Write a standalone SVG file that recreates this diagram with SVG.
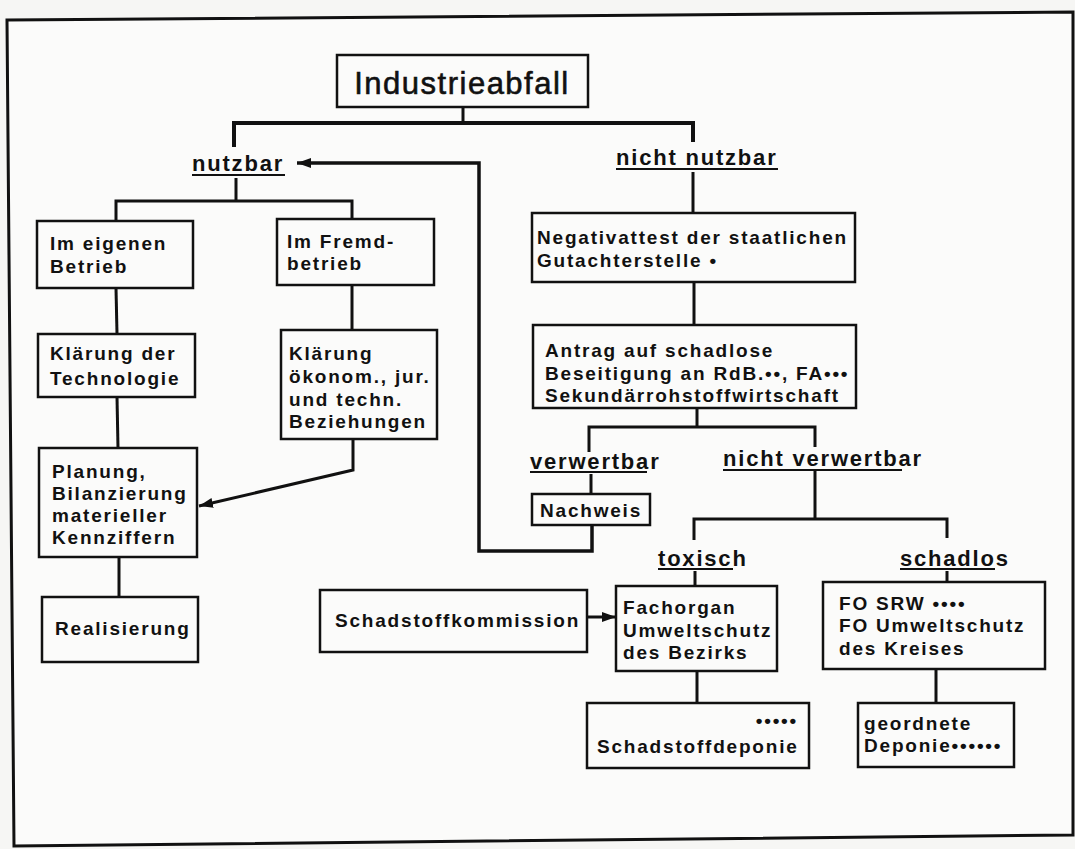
<svg xmlns="http://www.w3.org/2000/svg" width="1075" height="849" viewBox="0 0 1075 849">
<defs>
<style>
.box{fill:none;stroke:#111;stroke-width:2.5}
.t{font-family:"Liberation Sans",Arial,sans-serif;font-weight:bold;font-size:19px;letter-spacing:1.8px;fill:#111}
.lbl{font-family:"Liberation Sans",Arial,sans-serif;font-weight:bold;font-size:22px;letter-spacing:1.8px;fill:#111}
.ul{stroke:#111;stroke-width:2}
.c{fill:none;stroke:#111;stroke-width:3;stroke-linejoin:miter}
.title{font-family:"Liberation Sans",Arial,sans-serif;font-size:31px;letter-spacing:1.5px;fill:#111;stroke:#111;stroke-width:0.6}
</style>
<marker id="ah" markerUnits="userSpaceOnUse" markerWidth="16" markerHeight="12" refX="14" refY="6" orient="auto">
<path d="M0,1 L14,6 L0,11 Z" fill="#111"/>
</marker>
</defs>
<rect x="0" y="0" width="1075" height="849" fill="#f6f6f4"/>
<polygon points="7,20 1073,12 1073,835 14,846" fill="#fbfbfa" stroke="#111" stroke-width="3"/>

<g id="connectors">
<polyline class="c" points="463,107 463,123"/>
<polyline class="c" style="stroke-width:4" points="234,147 234,123 693,123 693,142"/>
<polyline class="c" points="236,178 236,201"/>
<polyline class="c" points="116,221 116,201 352,201 352,219"/>
<polyline class="c" points="116,288 117,334"/>
<polyline class="c" points="352,285 352,330"/>
<polyline class="c" points="117,397 118,448"/>
<polyline class="c" marker-end="url(#ah)" points="353,439 353,470 199,506"/>
<polyline class="c" points="119,557 119,597"/>
<polyline class="c" points="693,172 693,213"/>
<polyline class="c" points="694,282 694,325"/>
<polyline class="c" points="697,408 697,427"/>
<polyline class="c" points="589,452 589,427 815,427 815,447"/>
<polyline class="c" points="591,474 591,494"/>
<polyline class="c" style="stroke-width:3.5" marker-end="url(#ah)" points="592,525 592,551 479,551 479,163 297,163"/>
<polyline class="c" points="815,471 815,519"/>
<polyline class="c" points="694,540 694,519 947,519 947,538"/>
<polyline class="c" points="695,571 695,586"/>
<polyline class="c" points="947,571 947,582"/>
<polyline class="c" marker-end="url(#ah)" points="587,617 616,617"/>
<polyline class="c" points="697,671 697,703"/>
<polyline class="c" points="936,669 936,703"/>
</g>

<g id="industrieabfall">
<rect class="box" x="337" y="55" width="251" height="52"/>
<text class="title" x="462" y="94" text-anchor="middle">Industrieabfall</text>
</g>

<g id="nutzbar">
<text class="lbl" x="192" y="171">nutzbar</text>
<line class="ul" x1="192" y1="175" x2="285" y2="175"/>
</g>

<g id="nicht-nutzbar">
<text class="lbl" x="616" y="165">nicht nutzbar</text>
<line class="ul" x1="616" y1="169" x2="778" y2="169"/>
</g>

<g id="eigener-betrieb">
<rect class="box" x="37" y="221" width="156" height="67"/>
<text class="t" x="50" y="250">Im eigenen</text>
<text class="t" x="50" y="273">Betrieb</text>
</g>

<g id="fremdbetrieb">
<rect class="box" x="277" y="219" width="157" height="66"/>
<text class="t" x="287" y="248">Im Fremd-</text>
<text class="t" x="287" y="270">betrieb</text>
</g>

<g id="klaerung-technologie">
<rect class="box" x="38" y="334" width="157" height="63"/>
<text class="t" x="50" y="360">Klärung der</text>
<text class="t" x="50" y="385">Technologie</text>
</g>

<g id="klaerung-beziehungen">
<rect class="box" x="281" y="330" width="156" height="109"/>
<text class="t" x="289" y="360">Klärung</text>
<text class="t" x="289" y="383">ökonom., jur.</text>
<text class="t" x="289" y="406">und techn.</text>
<text class="t" x="289" y="428">Beziehungen</text>
</g>

<g id="planung">
<rect class="box" x="39" y="448" width="158" height="109"/>
<text class="t" x="52" y="478">Planung,</text>
<text class="t" x="52" y="500">Bilanzierung</text>
<text class="t" x="52" y="522">materieller</text>
<text class="t" x="52" y="544">Kennziffern</text>
</g>

<g id="realisierung">
<rect class="box" x="42" y="597" width="156" height="65"/>
<text class="t" x="55" y="635">Realisierung</text>
</g>

<g id="negativattest">
<rect class="box" x="532" y="213" width="323" height="69"/>
<text class="t" x="537" y="244">Negativattest der staatlichen</text>
<text class="t" x="537" y="267">Gutachterstelle •</text>
</g>

<g id="antrag">
<rect class="box" x="533" y="325" width="323" height="83"/>
<text class="t" x="545" y="357">Antrag auf schadlose</text>
<text class="t" x="545" y="380">Beseitigung an RdB.••, FA•••</text>
<text class="t" x="545" y="402">Sekundärrohstoffwirtschaft</text>
</g>

<g id="verwertbar">
<text class="lbl" x="530" y="469">verwertbar</text>
<line class="ul" x1="530" y1="472" x2="647" y2="472"/>
</g>

<g id="nicht-verwertbar">
<text class="lbl" x="723" y="466">nicht verwertbar</text>
<line class="ul" x1="723" y1="470" x2="902" y2="470"/>
</g>

<g id="nachweis">
<rect class="box" x="532" y="494" width="118" height="31"/>
<text class="t" x="540" y="517">Nachweis</text>
</g>

<g id="toxisch">
<text class="lbl" x="658" y="566">toxisch</text>
<line class="ul" x1="658" y1="569" x2="733" y2="569"/>
</g>

<g id="schadlos">
<text class="lbl" x="900" y="566">schadlos</text>
<line class="ul" x1="900" y1="569" x2="995" y2="569"/>
</g>

<g id="schadstoffkommission">
<rect class="box" x="320" y="590" width="267" height="62"/>
<text class="t" x="335" y="627">Schadstoffkommission</text>
</g>

<g id="fachorgan-bezirk">
<rect class="box" x="616" y="586" width="161" height="85"/>
<text class="t" x="623" y="614">Fachorgan</text>
<text class="t" x="623" y="637">Umweltschutz</text>
<text class="t" x="623" y="659">des Bezirks</text>
</g>

<g id="fo-kreis">
<rect class="box" x="823" y="582" width="222" height="87"/>
<text class="t" x="839" y="610">FO SRW ••••</text>
<text class="t" x="839" y="632">FO Umweltschutz</text>
<text class="t" x="839" y="655">des Kreises</text>
</g>

<g id="schadstoffdeponie">
<rect class="box" x="587" y="703" width="222" height="65"/>
<text class="t" x="798" y="727" text-anchor="end">•••••</text>
<text class="t" x="597" y="753">Schadstoffdeponie</text>
</g>

<g id="geordnete-deponie">
<rect class="box" x="858" y="703" width="156" height="64"/>
<text class="t" x="864" y="730">geordnete</text>
<text class="t" x="864" y="752">Deponie••••••</text>
</g>
</svg>
